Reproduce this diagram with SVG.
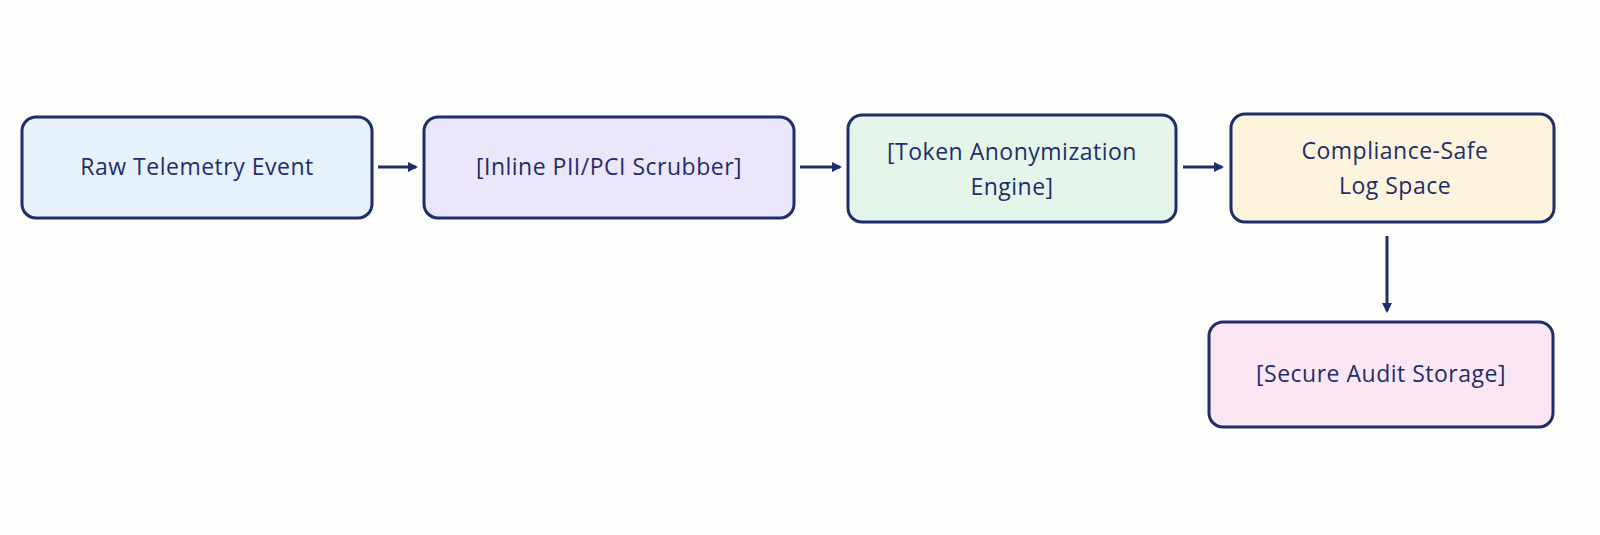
<svg xmlns="http://www.w3.org/2000/svg" width="1600" height="535" viewBox="0 0 1600 535">
<style>
.box{stroke:#1f2d6b;stroke-width:3;}
.t{font-family:"Open Sans","DejaVu Sans",sans-serif;font-size:23px;fill:#1f2d6b;text-anchor:middle;letter-spacing:0.5px}
.c{stroke:#1f2d6b;stroke-width:3;fill:none;marker-end:url(#a)}
</style>
<defs><marker id="a" markerWidth="10" markerHeight="10" refX="8" refY="5" orient="auto" markerUnits="userSpaceOnUse"><path d="M0,0 L10,5 L0,10 z" fill="#1f2d6b"/></marker></defs>
<rect width="1600" height="535" fill="#fdfdfb"/>
<g id="n1"><rect class="box" x="22" y="117" width="350" height="101" rx="14" fill="#e6f1fb"/><text class="t" x="197" y="175">Raw Telemetry Event</text></g>
<g id="n2"><rect class="box" x="424" y="117" width="370" height="101" rx="14" fill="#ece6fa"/><text class="t" x="609" y="175">[Inline PII/PCI Scrubber]</text></g>
<g id="n3"><rect class="box" x="848" y="115" width="328" height="107" rx="14" fill="#e3f6e9"/><text class="t" x="1012" y="160">[Token Anonymization</text><text class="t" x="1012" y="195">Engine]</text></g>
<g id="n4"><rect class="box" x="1231" y="114" width="323" height="108" rx="14" fill="#fcf4dc"/><text class="t" x="1395" y="159">Compliance-Safe</text><text class="t" x="1395" y="194">Log Space</text></g>
<g id="n5"><rect class="box" x="1209" y="322" width="344" height="105" rx="14" fill="#fbe6f3"/><text class="t" x="1381" y="382">[Secure Audit Storage]</text></g>
<g id="connectors">
<line class="c" x1="378" y1="167" x2="416" y2="167"/>
<line class="c" x1="800" y1="167" x2="840" y2="167"/>
<line class="c" x1="1183" y1="167" x2="1222" y2="167"/>
<line class="c" x1="1387" y1="236" x2="1387" y2="311"/>
</g>
</svg>
